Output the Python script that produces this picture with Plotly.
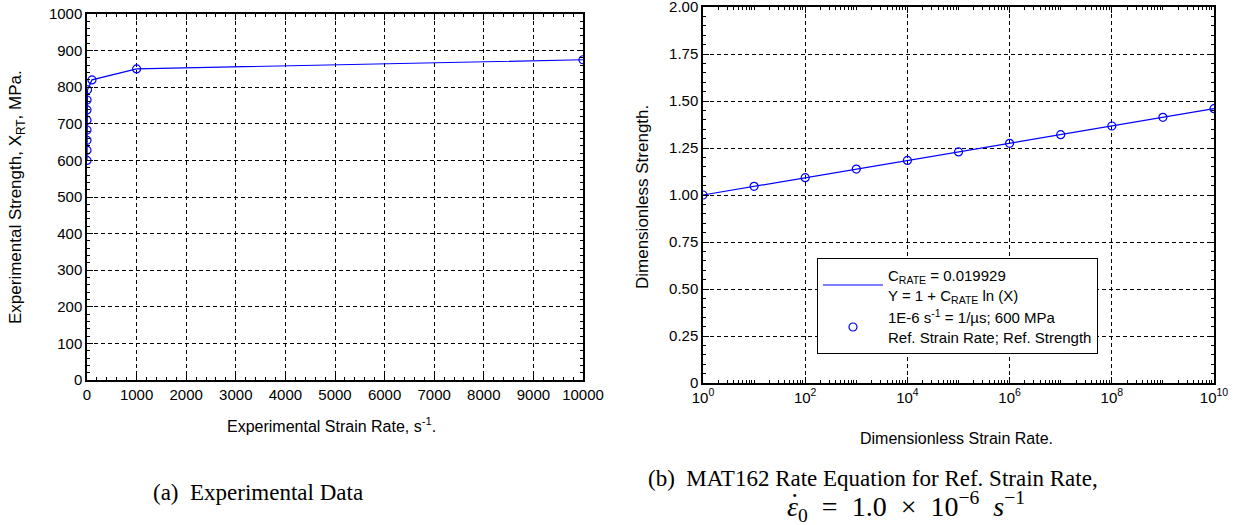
import plotly.graph_objects as go

# ---- data ----
exp_rate = [1e-6, 1e-5, 1e-4, 1e-3, 1e-2, 0.1, 1, 10, 100, 1000, 10000]      # s^-1
exp_strength = [600, 628, 655, 683, 710, 738, 765, 793, 820, 850, 875]        # MPa
dimless_rate = [1, 1e1, 1e2, 1e3, 1e4, 1e5, 1e6, 1e7, 1e8, 1e9, 1e10]
dimless_strength = [1.000, 1.046, 1.092, 1.138, 1.184, 1.229, 1.275, 1.321, 1.367, 1.413, 1.459]
log_tickvals = [1, 1e2, 1e4, 1e6, 1e8, 1e10]
log_ticktext = ["10<sup>0</sup>", "10<sup>2</sup>", "10<sup>4</sup>", "10<sup>6</sup>", "10<sup>8</sup>", "10<sup>10</sup>"]
right_yvals = [0, 0.25, 0.5, 0.75, 1.0, 1.25, 1.5, 1.75, 2.0]
right_ytext = ["0", "0.25", "0.50", "0.75", "1.00", "1.25", "1.50", "1.75", "2.00"]

BLUE = "#0000ff"
FONT = "Liberation Sans, Arial, sans-serif"
SERIF = "Liberation Serif, Times New Roman, serif"
W, H = 1236, 525
NB = "\u00a0"

fig = go.Figure()

fig.add_trace(go.Scatter(
    x=exp_rate, y=exp_strength, mode="lines+markers",
    line=dict(color=BLUE, width=1.2),
    marker=dict(symbol="circle-open", size=8, color=BLUE, line=dict(width=1.2)),
    xaxis="x", yaxis="y", showlegend=False))

fig.add_trace(go.Scatter(
    x=dimless_rate, y=dimless_strength, mode="lines",
    line=dict(color=BLUE, width=1.2),
    name="C<sub>RATE</sub> = 0.019929<br>Y = 1 + C<sub>RATE</sub> ln (X)",
    xaxis="x2", yaxis="y2"))
fig.add_trace(go.Scatter(
    x=dimless_rate, y=dimless_strength, mode="markers",
    marker=dict(symbol="circle-open", size=8, color=BLUE, line=dict(width=1.2)),
    name="1E-6 s<sup>-1</sup> = 1/\u00b5s; 600 MPa<br>Ref. Strain Rate; Ref. Strength",
    xaxis="x2", yaxis="y2"))

common = dict(
    showline=True, linecolor="black", linewidth=1.5, mirror="ticks",
    ticks="inside", ticklen=6, tickcolor="black", tickwidth=1,
    showgrid=True, gridcolor="black", gridwidth=1, griddash="4px,3px",
    zeroline=False, automargin=False, ticklabeloverflow="allow",
    tickfont=dict(family=FONT, size=15, color="black"),
)


def px(x):
    return x / W


def py(y):
    return 1 - y / H


math_text = ("<i>\u03b5</i><sub>0</sub>" + NB + NB + "=" + NB + NB + "1.0" + NB + NB + "\u00d7" + NB + NB
             + "10<sup>\u22126</sup>" + NB + NB + "<i>s</i><sup>\u22121</sup>")

annotations = [
    # axis titles
    dict(text="Experimental Strain Rate, s<sup>-1</sup>.", x=px(331), y=py(425),
         font=dict(family=FONT, size=16)),
    dict(text="Experimental Strength, X<sub>RT</sub>, MPa.", x=px(17), y=py(197), textangle=-90,
         font=dict(family=FONT, size=17)),
    dict(text="Dimensionless Strain Rate.", x=px(956), y=py(438),
         font=dict(family=FONT, size=16)),
    dict(text="Dimensionless Strength.", x=px(642), y=py(197), textangle=-90,
         font=dict(family=FONT, size=17)),
    # captions
    dict(text="(a)  Experimental Data", x=px(258), y=py(492),
         font=dict(family=SERIF, size=23)),
    dict(text="(b)  MAT162 Rate Equation for Ref. Strain Rate,", x=px(873), y=py(478),
         font=dict(family=SERIF, size=23)),
    dict(text=math_text, x=px(785), y=py(506), xanchor="left",
         font=dict(family=SERIF, size=28)),
    dict(text="\u02d9", x=px(794), y=py(502),
         font=dict(family=SERIF, size=28)),
]
for a in annotations:
    a.setdefault("xanchor", "center")
    a.update(xref="paper", yref="paper", showarrow=False, yanchor="middle")
    a["font"]["color"] = "black"

fig.update_layout(
    width=W, height=H,
    margin=dict(l=0, r=0, t=0, b=0),
    paper_bgcolor="white", plot_bgcolor="white",
    font=dict(family=FONT, size=14, color="black"),
    xaxis=dict(domain=[px(87), px(583)], range=[0, 10000], dtick=1000, tickformat="d",
               minor=dict(ticks="inside", ticklen=3, dtick=200, tickcolor="black"),
               anchor="y", **common),
    yaxis=dict(domain=[py(380), py(14)], range=[0, 1000], dtick=100, tickformat="d",
               minor=dict(ticks="inside", ticklen=3, dtick=20, tickcolor="black"),
               anchor="x", **common),
    xaxis2=dict(domain=[px(703), px(1214)], type="log", range=[0, 10],
                tickmode="array", tickvals=log_tickvals, ticktext=log_ticktext,
                minor=dict(ticks="inside", ticklen=3, dtick="D1", tickcolor="black", showgrid=False),
                anchor="y2", **common),
    yaxis2=dict(domain=[py(383), py(7)], range=[0, 2],
                tickmode="array", tickvals=right_yvals, ticktext=right_ytext,
                minor=dict(ticks="inside", ticklen=3, dtick=0.05, tickcolor="black"),
                anchor="x2", **common),
    legend=dict(x=px(817), y=py(258), xanchor="left", yanchor="top",
                bgcolor="white", bordercolor="black", borderwidth=1,
                font=dict(family=FONT, size=15, color="black"),
                itemwidth=60, tracegroupgap=4),
    annotations=annotations,
)

fig.write_html("out.html", config={"displayModeBar": False},
               post_script="document.body.style.margin='0px';")
